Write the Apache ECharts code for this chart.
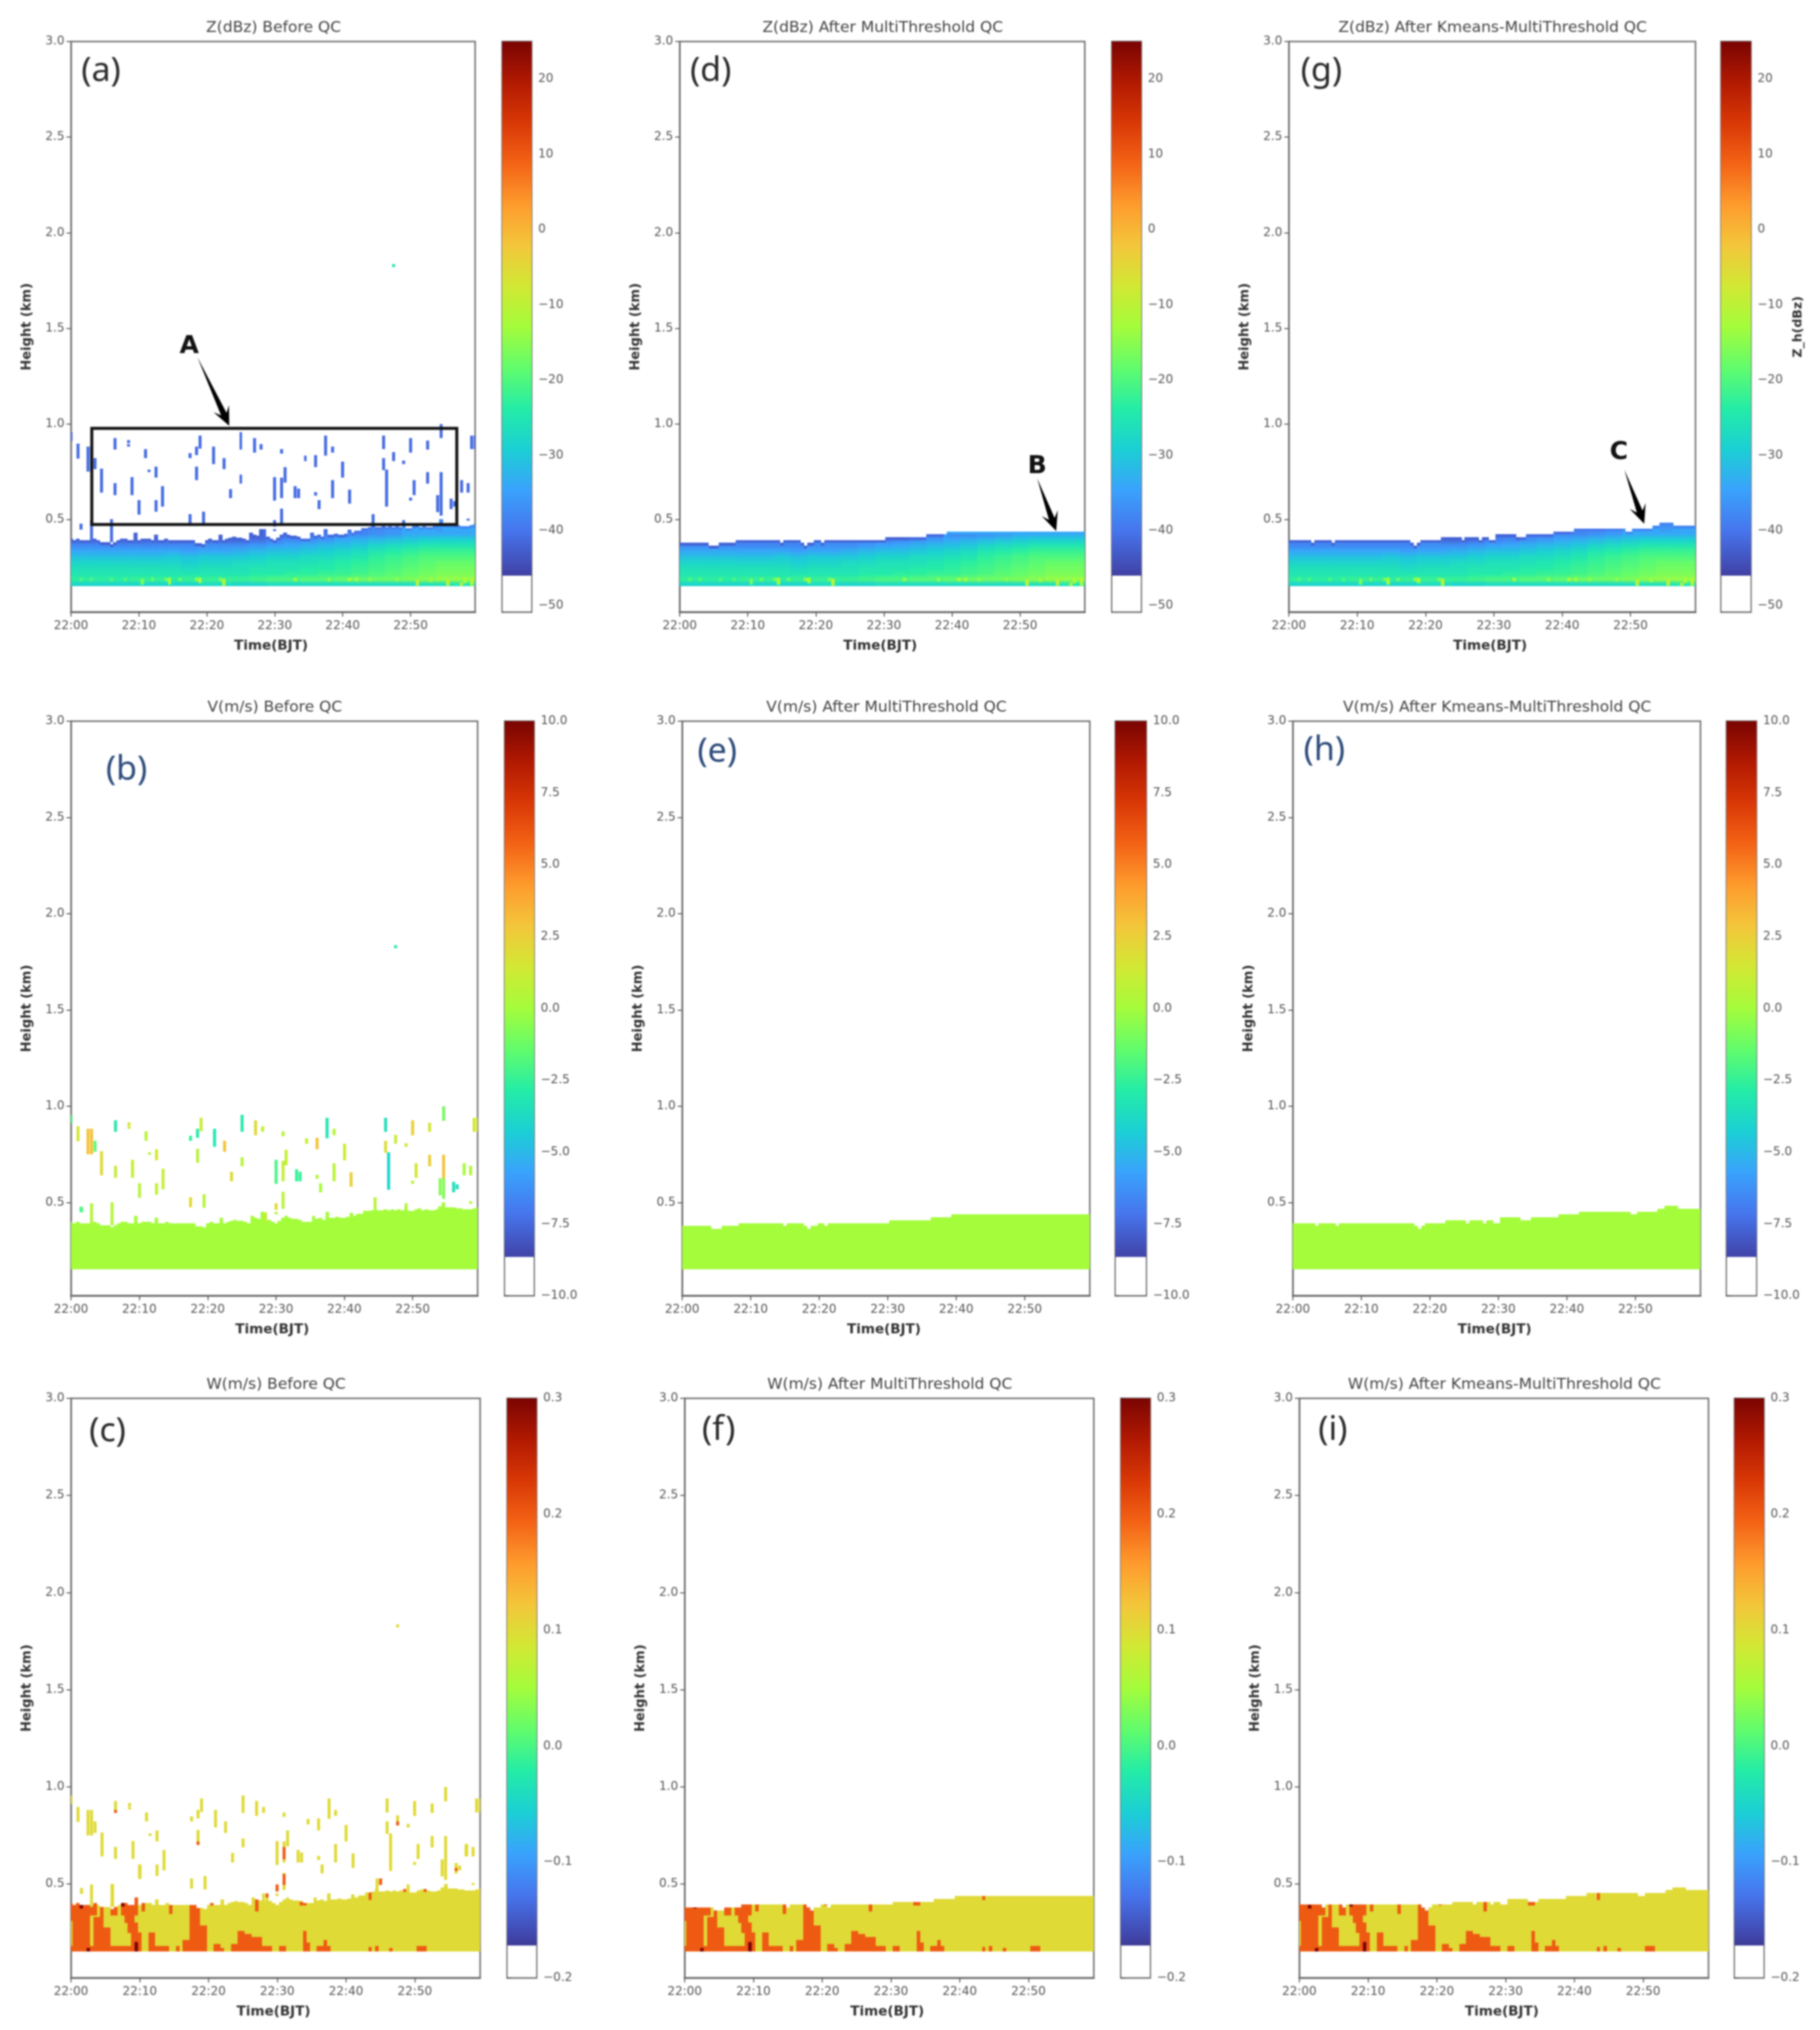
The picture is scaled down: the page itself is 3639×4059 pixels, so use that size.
<!DOCTYPE html>
<html><head><meta charset="utf-8">
<style>html,body{margin:0;padding:0;background:#fff}#main{width:3639px;height:4059px;filter:blur(1.5px)}</style>
<script src="https://cdn.jsdelivr.net/npm/echarts@6/dist/echarts.min.js"></script>
</head><body><div id="main"></div>
<script>
// ---------- axis ticks ----------
const xTickMinutes=[0,10,20,30,40,50];
const xTickLabels=['22:00','22:10','22:20','22:30','22:40','22:50'];
const yTicks=[0.5,1.0,1.5,2.0,2.5,3.0];
const zTicks=[-50,-40,-30,-20,-10,0,10,20];
const vTicks=[-10,-7.5,-5,-2.5,0,2.5,5,7.5,10];
const wTicks=[-0.2,-0.1,0,0.1,0.2,0.3];
const turboStops=['#30123b','#4145ab','#4675ed','#39a2fc','#1bcfd4','#24eca6','#61fc6c','#a4fc3b','#d1e834','#f3c63a','#fe9b2d','#f36315','#d93806','#b11901','#7a0402'];

// ---------- echo-top height (km) of each 30 s column, 22:00 .. 22:59:30 ----------
const topBefore=[
.40,.39,.40,.39,.39,.39,.39,.40,.39,.38,
.38,.38,.37,.38,.39,.40,.40,.39,.39,.43,
.39,.40,.40,.40,.39,.42,.39,.39,.40,.39,
.39,.39,.39,.39,.39,.39,.39,.375,.375,.37,
.39,.40,.39,.39,.42,.39,.40,.405,.41,.405,
.405,.40,.39,.43,.42,.415,.45,.41,.41,.40,
.39,.405,.42,.43,.42,.415,.415,.41,.40,.40,
.40,.43,.415,.42,.41,.45,.42,.42,.425,.42,
.42,.425,.445,.43,.44,.44,.455,.455,.46,.475,
.46,.46,.465,.46,.465,.46,.465,.46,.47,.455,
.455,.465,.47,.46,.465,.46,.46,.465,.48,.50,
.475,.475,.475,.47,.47,.465,.465,.465,.47,.475];
const topMulti=[
.377,.377,.377,.377,.377,.377,.377,.377,.377,.362,
.362,.362,.377,.377,.377,.377,.377,.392,.392,.392,
.392,.392,.392,.392,.392,.392,.392,.392,.392,.392,
.377,.392,.392,.392,.392,.392,.377,.362,.377,.377,
.392,.392,.377,.392,.392,.392,.392,.392,.392,.392,
.392,.392,.392,.392,.392,.392,.392,.392,.392,.392,
.392,.407,.407,.407,.407,.407,.407,.407,.407,.407,
.407,.407,.407,.422,.422,.422,.422,.422,.422,.437,
.437,.437,.437,.437,.437,.437,.437,.437,.437,.437,
.437,.437,.437,.437,.437,.437,.437,.437,.437,.437,
.437,.437,.437,.437,.437,.437,.437,.437,.437,.437,
.437,.437,.437,.437,.437,.437,.437,.437,.437,.437];
const topKmeans=[
.392,.392,.392,.392,.392,.392,.392,.377,.392,.392,
.392,.392,.392,.377,.392,.392,.392,.392,.392,.392,
.392,.392,.392,.392,.392,.392,.392,.392,.392,.392,
.392,.392,.392,.392,.392,.392,.377,.362,.377,.392,
.392,.392,.392,.392,.392,.407,.407,.407,.407,.407,
.407,.392,.407,.407,.407,.407,.392,.407,.407,.392,
.392,.422,.422,.422,.422,.422,.422,.407,.407,.407,
.422,.422,.422,.422,.422,.422,.422,.422,.437,.437,
.437,.437,.437,.437,.452,.452,.452,.452,.452,.452,
.452,.452,.452,.452,.452,.452,.452,.452,.452,.437,
.437,.452,.452,.452,.452,.452,.452,.467,.467,.482,
.482,.482,.482,.467,.467,.467,.467,.467,.467,.467];
const bandBottom=0.154;

// ---------- reflectivity (dBZ): one row per height, one value every 2.5 min ----------
const zKnotMinutes=[0,2.5,5,7.5,10,12.5,15,17.5,20,22.5,25,27.5,30,32.5,35,37.5,40,42.5,45,47.5,50,52.5,55,57.5,60];
const zRowHeights=[.165,.1875,.215,.245,.275,.305,.335,.365,.395,.425,.48];
const zRows=[
[-28,-28,-28,-28,-28,-28,-28,-28,-27,-27,-28,-28,-27,-27,-27,-27,-27,-27,-27,-27,-27,-26,-26,-25,-25],
[-23,-23,-23,-23,-22,-22,-23,-22,-22,-22,-22,-21,-20,-20,-19,-19,-18,-17,-17,-17,-16,-15,-14,-14,-14],
[-25,-25,-25,-25,-25,-25,-25,-25,-25,-25,-25,-24,-24,-23,-23,-22,-22,-21,-20,-19,-18,-17,-16,-16,-16],
[-26,-26,-26,-26,-26,-26,-26,-27,-26,-26,-26,-25,-25,-25,-24,-24,-23,-22,-21,-20,-19,-18,-17,-17,-17],
[-28,-28,-28,-28,-28,-28,-28,-29,-28,-28,-27,-27,-26,-26,-26,-25,-24,-23,-22,-21,-20,-19,-18,-18,-18],
[-31,-31,-31,-31,-31,-31,-30,-31,-30,-30,-30,-29,-28,-28,-27,-27,-26,-25,-23,-22,-21,-20,-20,-20,-20],
[-34,-34,-34,-34,-34,-34,-34,-35,-34,-34,-33,-32,-31,-31,-30,-29,-28,-27,-25,-24,-23,-22,-22,-22,-22],
[-38,-38,-38,-38,-38,-38,-38,-38,-37,-37,-37,-36,-35,-34,-33,-32,-31,-30,-28,-27,-26,-25,-25,-25,-25],
[-42,-42,-42,-42,-42,-42,-42,-42,-42,-42,-42,-41,-39,-38,-37,-36,-34,-33,-32,-31,-30,-29,-29,-29,-29],
[-42,-42,-42,-42,-42,-42,-42,-42,-42,-42,-42,-42,-42,-42,-41,-40,-38,-38,-37,-36,-34,-34,-34,-34,-34],
[-42,-42,-42,-42,-42,-42,-42,-42,-42,-42,-42,-42,-42,-42,-41,-41,-41,-40,-40,-39,-38,-38,-38,-38,-38]];
const zCapMultiLate=-34;
// brighter low-level flecks: minute, low km, high km, dBZ
const zFlecks=[
[1.5,.18,.195,-20],[3,.18,.195,-20],[6,.18,.195,-20],[8,.18,.195,-20],[10.5,.16,.19,-17],[12,.18,.195,-18],
[14,.18,.195,-17],[14.5,.16,.195,-13],[16,.18,.195,-18],[18.5,.18,.195,-15],[19,.17,.195,-13],[22,.18,.195,-17],
[22.5,.155,.19,-11],[33,.18,.195,-14],[38,.18,.195,-15],[41,.18,.195,-13],[42,.18,.195,-13],[44,.18,.195,-15],
[48,.18,.195,-15],[51,.155,.185,-10],[53,.175,.195,-14],[55.5,.155,.185,-10],[57.5,.155,.17,-10],[58,.17,.195,-13],[59,.155,.195,-12]];

// ---------- clutter specks seen before QC: minute, low km, high km, radial velocity m/s ----------
const specks=[
[0,.912,.955,-2],[1,.82,.896,1.5],[2.5,.751,.881,3],[3,.751,.881,3],[3.5,.764,.82,-1.5],[4.5,.643,.764,2],
[6.5,.868,.925,-3],[6.5,.63,.69,1],[8.5,.90,.915,1.5],[8.5,.884,.894,1.5],[9,.63,.72,1],[10,.526,.60,.6],
[11,.823,.868,.5],[11.5,.749,.76,.5],[12.5,.72,.775,1.5],[12.5,.543,.60,.8],[13.5,.57,.675,1],[17.5,.823,.847,-2.5],
[17.5,.478,.526,2],[18.5,.838,.881,-3],[19,.873,.938,1],[18.5,.708,.777,.7],[19.5,.474,.541,.5],[21,.792,.881,-3.2],
[22.5,.764,.82,3],[23.5,.613,.659,2],[25,.868,.955,-3],[25,.69,.734,.5],[27,.851,.925,2],[28,.868,.894,1],
[31,.847,.868,.5],[30,.60,.72,-2],[30,.465,.496,2],[31,.613,.717,1],[31.5,.695,.773,1],[31,.47,.556,.6],
[33,.613,.673,-2.5],[33.5,.613,.66,-2.5],[34.5,.808,.834,1],[36,.777,.835,3],[36,.626,.643,.5],[36.5,.556,.60,0],
[37.5,.835,.938,-3.2],[38.5,.851,.881,.5],[38.5,.613,.704,.7],[40,.721,.803,1.2],[41,.584,.656,2.5],[44.5,.474,.526,.7],
[46,.87,.938,-3.5],[46,.76,.82,1.8],[46.5,.569,.76,-4],[47.5,.806,.851,1],[49,.792,.808,1],[49,.47,.496,.5],
[50,.851,.925,2.5],[50,.60,.613,.5],[50.5,.63,.704,1.5],[52.5,.868,.912,1.5],[52.5,.69,.747,2.5],[54.5,.927,.998,-1],
[54.5,.626,.747,3],[54.5,.522,.626,-.7],[54,.54,.626,-.7],[56,.556,.608,-3.5],[56.5,.57,.595,-3.5],[57.5,.643,.704,0],
[58.5,.643,.69,.5],[58.5,.495,.505,.5],[59.5,.87,.938,1.5],[59,.87,.938,1.5],[1.5,.45,.478,-2],[3,.383,.496,.5],
[6,.383,.50,.5],[28.5,.40,.448,1],[30,.44,.45,.5]];
const isolatedSpeck=[47.5,1.822,1.836,-3];
const zSpeckValue=-41, zIsolated=-25, wSpeckValue=0.1, speckHalfWidth=0.22;

// ---------- vertical velocity patches: start min, end min, low km, high km, m/s ----------
const wBandValue=0.1, vBandValue=0;
const wPatches=[
[0.5,2.75,.154,.40,.2],[0,.25,.31,.40,.2],[0,.25,.154,.18,.2],[2.5,3.25,.154,.18,.2],[2.5,3.25,.34,.37,.2],[3,3.75,.34,.474,.2],
[3.5,4.75,.154,.33,.2],[4.25,5,.27,.40,.2],[4.75,5.75,.154,.275,.2],[5.75,9.25,.154,.18,.2],[6,6.75,.34,.42,.2],
[7.5,9.75,.338,.405,.2],[8,9.5,.30,.338,.2],[8.25,9.75,.25,.30,.2],[9,10.25,.154,.25,.2],[9.5,10,.405,.436,.2],
[10.5,10.75,.36,.40,.2],[11.5,12.25,.154,.25,.2],[12.25,14.5,.154,.18,.2],[14.25,14.75,.346,.40,.2],[15.25,15.75,.154,.18,.2],
[16.25,17.75,.154,.21,.2],[17.5,19,.286,.405,.2],[17.5,19.75,.154,.286,.2],[20.25,20.75,.39,.405,.2],[20.75,21.75,.154,.19,.2],
[21.5,22.5,.154,.17,.2],[23.25,25.75,.154,.19,.2],[24.25,25.25,.154,.257,.2],[25.25,26.5,.154,.24,.2],[26.5,27.75,.154,.227,.2],
[27.75,29.5,.154,.18,.2],[26.75,27.5,.36,.42,.2],[30.5,31.5,.154,.18,.2],[33.75,34.25,.154,.257,.2],[34.25,35,.154,.197,.2],
[33.5,34.5,.39,.405,.2],[35.75,36,.24,.39,.2],[36,38,.154,.18,.2],[37,37.5,.154,.21,.2],[39.75,40,.154,.17,.2],
[43.5,44,.419,.462,.2],[43.5,44,.154,.175,.2],[44.5,45,.154,.18,.2],[46.5,47,.154,.17,.2],[50.5,52,.154,.18,.2],
[1.25,1.75,.375,.39,.3],[2.25,2.75,.154,.168,.3],[7.5,8,.385,.40,.3],[9.5,10,.154,.20,.3],[25.75,26,.154,.19,.3]];
const wSpeckPatches=[
[6.5,.868,.88],[18.5,.703,.718],[31,.628,.688],[31,.496,.551],[30,.462,.496],[28.5,.433,.449],
[45,.496,.526],[47.5,.803,.82],[56,.568,.581],[48.5,.46,.474],[51.5,.46,.474]];
const wSpeckPatchValue=0.2;

// ---------- annotations (minute, km) ----------
const boxA=[3.06,.474,56.8,.977];
const arrowA=[18.6,1.35,23.3,.99], arrowB=[52.5,.716,55.3,.44], arrowC=[49.1,.76,52,.478];
const noteA=['A',17.4,1.405], noteB=['B',52.5,.777], noteC=['C',48.3,.85];

const xEnd=59.5, yStart=0.016, yEnd=3;
const scales={z:{min:-50.85,max:25,cut:-46,ticks:zTicks,dec:0},v:{min:-10,max:10,cut:-8.65,ticks:vTicks,dec:1},w:{min:-.2,max:.3,cut:-.172,ticks:wTicks,dec:1}};

function turbo(p){
  p=Math.max(0,Math.min(1,p));
  const f=p*(turboStops.length-1),i=Math.min(turboStops.length-2,Math.floor(f)),u=f-i;
  const c=s=>[1,3,5].map(k=>parseInt(s.substr(k,2),16));
  const A=c(turboStops[i]),B=c(turboStops[i+1]);
  return 'rgb('+A.map((x,k)=>Math.round(x+(B[k]-x)*u)).join(',')+')';
}
function minus(s){return String(s).replace('-','\u2212');}
function nearestKnot(t){let b=0;zKnotMinutes.forEach((m,i)=>{if(Math.abs(m-t)<Math.abs(zKnotMinutes[b]-t))b=i;});return b;}

// band columns: [start, end, low, high, knot index] drawn with a vertical colour ramp through the table rows
function zBandColumns(top){
  return top.map((h,i)=>{const t=i*.5;return [t-.25,t+.25,bandBottom,h,nearestKnot(t)];});
}
function zOverlays(top,isMulti){
  const out=[];
  top.forEach((h,i)=>{
    const t=i*.5,k=nearestKnot(t);
    let cap=Math.min(zRows[zRows.length-1][k],-38);
    if(isMulti&&t>=39)cap=zCapMultiLate;
    out.push([t-.25,t+.25,h-.012,h,cap]);
  });
  zFlecks.forEach(f=>out.push([f[0]-.25,f[0]+.25,f[1],f[2],f[3]]));
  return out;
}
function flatCells(top,val){return top.map((h,i)=>[i*.5-.25,i*.5+.25,bandBottom,h,val]);}
function wCells(top){
  const out=flatCells(top,wBandValue);
  [0,1].forEach(pass=>wPatches.forEach(p=>{
    if((p[4]>=.3)!==(pass===1))return;
    top.forEach((h,i)=>{
      const t=i*.5;
      if(t>=p[0]-.01&&t<p[1]-.01){
        const hi=Math.min(p[3],h);
        if(hi>p[2])out.push([t-.25,t+.25,p[2],hi,p[4]]);
      }
    });
  }));
  return out;
}
function speckCells(kind){
  const w=speckHalfWidth;
  const out=specks.map(s=>[s[0]-w,s[0]+w,s[1],s[2],kind==='z'?zSpeckValue:kind==='v'?s[3]:wSpeckValue]);
  out.push([isolatedSpeck[0]-w,isolatedSpeck[0]+w,isolatedSpeck[1],isolatedSpeck[2],kind==='z'?zIsolated:kind==='v'?isolatedSpeck[3]:wSpeckValue]);
  if(kind==='w')wSpeckPatches.forEach(s=>out.push([s[0]-w,s[0]+w,s[1],s[2],wSpeckPatchValue]));
  return out;
}

const panels=[
 {k:'z',title:'Z(dBz) Before QC',note:'(a)',lc:[197,138],dark:1,l:142,r:950,t:83,b:1224,cl:1004,cr:1063,top:topBefore,box:boxA,arrow:arrowA,ann:noteA},
 {k:'z',title:'Z(dBz) After MultiThreshold QC',note:'(d)',lc:[1416,138],dark:1,l:1359,r:2169,t:83,b:1224,cl:2223,cr:2282,top:topMulti,arrow:arrowB,ann:noteB},
 {k:'z',title:'Z(dBz) After Kmeans-MultiThreshold QC',note:'(g)',lc:[2637,138],dark:1,l:2577,r:3390,t:83,b:1224,cl:3441,cr:3501,top:topKmeans,arrow:arrowC,ann:noteC,cbName:'Z_h(dBz)'},
 {k:'v',title:'V(m/s) Before QC',note:'(b)',lc:[248,1535],dark:0,l:142,r:955,t:1442,b:2591,cl:1009,cr:1068,top:topBefore},
 {k:'v',title:'V(m/s) After MultiThreshold QC',note:'(e)',lc:[1429,1499],dark:0,l:1364,r:2179,t:1442,b:2591,cl:2230,cr:2292,top:topMulti},
 {k:'v',title:'V(m/s) After Kmeans-MultiThreshold QC',note:'(h)',lc:[2643,1496],dark:0,l:2585,r:3400,t:1442,b:2591,cl:3452,cr:3512,top:topKmeans},
 {k:'w',title:'W(m/s) Before QC',note:'(c)',lc:[210,2858],dark:1,l:142,r:960,t:2796,b:3955,cl:1014,cr:1073,top:topBefore},
 {k:'w',title:'W(m/s) After MultiThreshold QC',note:'(f)',lc:[1432,2855],dark:1,l:1369,r:2187,t:2796,b:3955,cl:2241,cr:2300,top:topMulti},
 {k:'w',title:'W(m/s) After Kmeans-MultiThreshold QC',note:'(i)',lc:[2660,2855],dark:1,l:2598,r:3416,t:2796,b:3955,cl:3468,cr:3527,top:topKmeans}
];

const grids=[],xAxes=[],yAxes=[],series=[],titles=[];
const FONT='DejaVu Sans', W=3639, H=4059;
function cellRender(scale){
  return function(p,api){
    const a=api.coord([api.value(0),api.value(2)]),b=api.coord([api.value(1),api.value(3)]);
    const x0=Math.round(a[0]),x1=Math.max(x0+1,Math.round(b[0])),y1=Math.ceil(a[1]),y0=Math.floor(b[1]);
    return {type:'rect',shape:{x:x0,y:y0,width:x1-x0,height:y1-y0},
      style:{fill:turbo((api.value(4)-scale.min)/(scale.max-scale.min))}};
  };
}
function zColumnRender(scale){
  return function(p,api){
    const a=api.coord([api.value(0),api.value(2)]),b=api.coord([api.value(1),api.value(3)]);
    const x0=Math.floor(a[0]),x1=Math.ceil(b[0]),y1=Math.ceil(a[1]),y0=Math.floor(b[1]);
    const lo=api.value(2),hi=api.value(3),k=api.value(4),stops=[];
    zRowHeights.forEach((h,j)=>{
      const col=turbo((zRows[j][k]-scale.min)/(scale.max-scale.min));
      if(h<=hi)stops.push({offset:Math.max(0,(h-lo)/(hi-lo)),color:col});
    });
    stops.push({offset:1,color:stops[stops.length-1].color});
    return {type:'rect',shape:{x:x0,y:y0,width:x1-x0,height:y1-y0},
      style:{fill:new echarts.graphic.LinearGradient(0,1,0,0,stops)}};
  };
}
panels.forEach((P,i)=>{
  const S=scales[P.k], gi=grids.length;
  grids.push({show:true,left:P.l,top:P.t,width:P.r-P.l,height:P.b-P.t,borderColor:'#6e6e6e',borderWidth:3,backgroundColor:'#fff'});
  xAxes.push({gridIndex:gi,type:'value',min:0,max:xEnd,name:'Time(BJT)',nameLocation:'middle',nameGap:54,
    nameTextStyle:{fontFamily:FONT,fontWeight:'bold',fontSize:27,color:'#333',padding:[0,8,0,0]},
    axisLine:{show:true,lineStyle:{color:'#6e6e6e',width:4}},splitLine:{show:false},
    axisTick:{show:true,length:9,customValues:xTickMinutes,lineStyle:{color:'#555',width:2}},
    axisLabel:{customValues:xTickMinutes,margin:16,fontFamily:FONT,fontSize:24,color:'#555',formatter:v=>xTickLabels[xTickMinutes.indexOf(v)]||''}});
  yAxes.push({gridIndex:gi,type:'value',min:yStart,max:yEnd,name:'Height (km)',nameLocation:'middle',nameGap:75,nameRotate:90,
    nameTextStyle:{fontFamily:FONT,fontWeight:'bold',fontSize:26,color:'#333'},
    axisLine:{show:true,lineStyle:{color:'#6e6e6e',width:3}},splitLine:{show:false},
    axisTick:{show:true,length:9,customValues:yTicks,lineStyle:{color:'#555',width:2}},
    axisLabel:{customValues:yTicks,margin:13,fontFamily:FONT,fontSize:24,color:'#555',formatter:v=>v.toFixed(1)}});
  let cells;
  if(P.k==='z'){
    series.push({type:'custom',xAxisIndex:gi,yAxisIndex:gi,clip:true,silent:true,progressive:0,animation:false,
      renderItem:zColumnRender(S),encode:{x:[0,1],y:[2,3]},data:zBandColumns(P.top),z:2});
    cells=zOverlays(P.top,P.top===topMulti);
  }
  else if(P.k==='v')cells=flatCells(P.top,vBandValue);
  else cells=wCells(P.top);
  if(P.top===topBefore)cells=cells.concat(speckCells(P.k));
  series.push({type:'custom',xAxisIndex:gi,yAxisIndex:gi,clip:true,silent:true,progressive:0,animation:false,
    renderItem:cellRender(S),encode:{x:[0,1],y:[2,3]},data:cells,z:3});
  if(P.box){
    series.push({type:'custom',xAxisIndex:gi,yAxisIndex:gi,silent:true,animation:false,data:[P.box],encode:{x:[0,2],y:[1,3]},z:4,
      renderItem:(p,api)=>{const a=api.coord([api.value(0),api.value(1)]),b=api.coord([api.value(2),api.value(3)]);
        return {type:'rect',shape:{x:a[0],y:b[1],width:b[0]-a[0],height:a[1]-b[1]},style:{fill:'none',stroke:'#111',lineWidth:6}};}});
  }
  if(P.arrow){
    series.push({type:'custom',xAxisIndex:gi,yAxisIndex:gi,silent:true,animation:false,data:[P.arrow],encode:{x:[0,2],y:[1,3]},z:5,
      renderItem:(p,api)=>{
        const a=api.coord([api.value(0),api.value(1)]),b=api.coord([api.value(2),api.value(3)]);
        const dx=b[0]-a[0],dy=b[1]-a[1],L=Math.hypot(dx,dy),ux=dx/L,uy=dy/L,nx=-uy,ny=ux;
        const hl=38,hw=17,sw=6,bx=b[0]-ux*hl,by=b[1]-uy*hl,ix=b[0]-ux*(hl-12),iy=b[1]-uy*(hl-12);
        return {type:'polygon',shape:{points:[
          [a[0],a[1]],
          [ix+nx*sw,iy+ny*sw],[bx+nx*hw,by+ny*hw],[b[0],b[1]],[bx-nx*hw,by-ny*hw],[ix-nx*sw,iy-ny*sw]]},
          style:{fill:'#000'}};
      }});
    series.push({type:'custom',xAxisIndex:gi,yAxisIndex:gi,silent:true,animation:false,data:[[P.ann[1],P.ann[2]]],encode:{x:0,y:1},z:5,
      renderItem:(p,api)=>{const c=api.coord([api.value(0),api.value(1)]);
        return {type:'text',style:{x:c[0],y:c[1],text:P.ann[0],align:'center',verticalAlign:'middle',fontFamily:FONT,fontWeight:'bold',fontSize:50,fill:'#111'}};}});
  }
  titles.push({text:P.title,left:(P.l+P.r)/2-4,top:P.t-32,textAlign:'center',textVerticalAlign:'middle',
    textStyle:{fontFamily:FONT,fontWeight:'normal',fontSize:31,color:'#444'}});
  titles.push({text:P.note,left:P.lc[0],top:P.lc[1],textAlign:'center',textVerticalAlign:'middle',
    textStyle:{fontFamily:'Noto Sans',fontWeight:'normal',fontSize:68,color:P.dark?'#2a2a2a':'#2b4a7a'}});

  // colour bar
  const ci=grids.length;
  grids.push({show:true,left:P.cl,top:P.t,width:P.cr-P.cl,height:P.b-P.t,borderColor:'#6e6e6e',borderWidth:3,backgroundColor:'#fff'});
  xAxes.push({gridIndex:ci,type:'value',min:0,max:1,show:false});
  yAxes.push({gridIndex:ci,type:'value',position:'right',min:S.min,max:S.max,
    name:P.cbName||'',nameLocation:'middle',nameGap:82,nameRotate:90,
    nameTextStyle:{fontFamily:FONT,fontWeight:'bold',fontSize:25,color:'#333'},
    axisLine:{show:true,lineStyle:{color:'#6e6e6e',width:3}},splitLine:{show:false},
    axisTick:{show:true,length:9,customValues:S.ticks,lineStyle:{color:'#555',width:2}},
    axisLabel:{customValues:S.ticks,margin:13,fontFamily:FONT,fontSize:24,color:'#555',formatter:v=>minus(v.toFixed(S.dec))}});
  series.push({type:'custom',xAxisIndex:ci,yAxisIndex:ci,silent:true,animation:false,clip:true,data:[[S.cut,S.max]],encode:{y:[0,1]},z:2,
    renderItem:(p,api)=>{
      const a=api.coord([0,api.value(0)]),b=api.coord([1,api.value(1)]);
      const c0=(S.cut-S.min)/(S.max-S.min), stops=[{offset:0,color:turbo(c0)}];
      turboStops.forEach((col,j)=>{const q=j/(turboStops.length-1);if(q>c0)stops.push({offset:(q-c0)/(1-c0),color:col});});
      return {type:'rect',shape:{x:a[0],y:b[1],width:b[0]-a[0],height:a[1]-b[1]},
        style:{fill:new echarts.graphic.LinearGradient(0,1,0,0,stops)}};
    }});
  // white under-range part of the bar, inset so the frame stays visible
  series.push({type:'custom',xAxisIndex:ci,yAxisIndex:ci,silent:true,animation:false,clip:true,data:[[S.min,S.cut]],encode:{y:[0,1]},z:6,
    renderItem:(p,api)=>{
      const a=api.coord([0,api.value(0)]),b=api.coord([1,api.value(1)]);
      return {type:'rect',shape:{x:a[0]+1,y:b[1],width:b[0]-a[0]-2,height:a[1]-b[1]-2},style:{fill:'#fff'}};
    }});
});
const chart=echarts.init(document.getElementById('main'),null,{width:W,height:H});
chart.setOption({animation:false,backgroundColor:'#fff',title:titles,grid:grids,xAxis:xAxes,yAxis:yAxes,series});
</script></body></html>
